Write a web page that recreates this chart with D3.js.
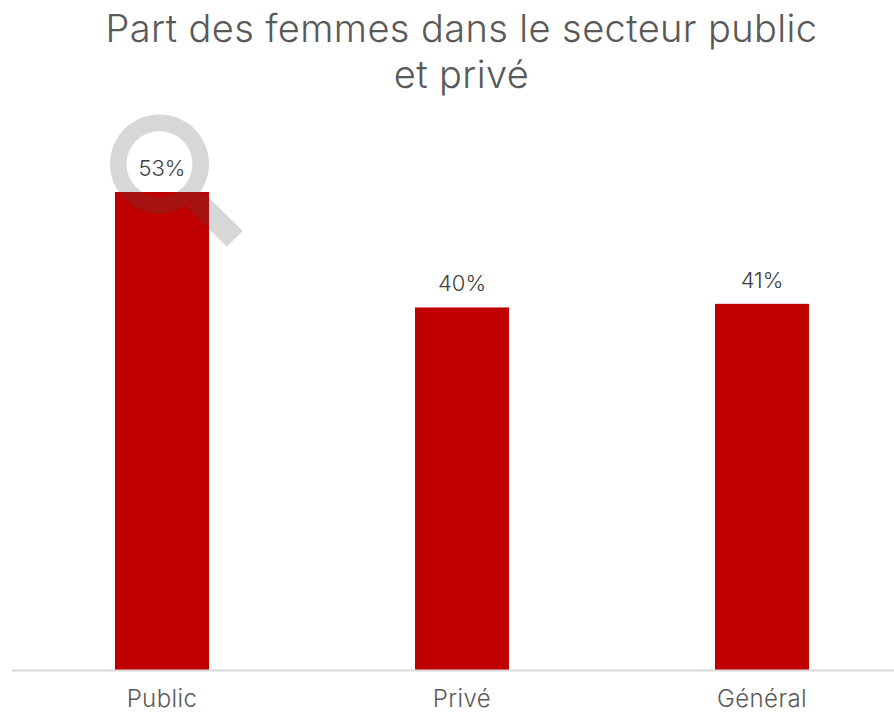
<!DOCTYPE html>
<html><head><meta charset="utf-8">
<script src="https://cdn.jsdelivr.net/npm/d3@7"></script>
<style>html,body{margin:0;background:#fff}svg{display:block}</style>
</head><body><svg id="c" width="894" height="713"></svg>
<script>
const categories=["Public","Privé","Général"];
const values=[53,40.2,40.6];
const labels=["53%","40%","41%"];
const titleLines=["Part des femmes dans le secteur public","et privé"];
const svg=d3.select("#c");
const x=d3.scaleBand().domain(categories).range([12,912]).paddingInner(0.6867).paddingOuter(0.3433);
const y=d3.scaleLinear().domain([0,53]).range([670,192]);
const font="Inter";
const wt=300;
svg.selectAll(".t").data(titleLines).join("text").attr("x",461.5).attr("y",(d,i)=>42+i*46)
 .attr("text-anchor","middle").attr("font-size",38).attr("letter-spacing",0.4).attr("font-weight",wt).attr("fill","#595959").style("font-family",font).text(d=>d);
svg.selectAll(".b").data(categories).join("rect").attr("x",d=>x(d)).attr("width",x.bandwidth())
 .attr("y",(d,i)=>y(values[i])).attr("height",(d,i)=>y(0)-y(values[i])).attr("fill","#c00000");
// magnifier, translucent over the first bar
const cx=x("Public")+x.bandwidth()/2-2.5, cy=164;
const mag=svg.append("g").attr("opacity",0.22);
const ring=d3.arc()({innerRadius:33,outerRadius:49.5,startAngle:0,endAngle:2*Math.PI});
mag.append("path").attr("transform",`translate(${cx},${cy})`).attr("d",ring).attr("fill","#4d4d4d");
mag.append("path").attr("transform",`translate(${cx},${cy})`)
 .attr("d","M27.2,42.7 L43.5,27.7 L83.2,67 L67.2,82.7 Z").attr("fill","#4d4d4d");
svg.append("line").attr("x1",12).attr("x2",894).attr("y1",670.5).attr("y2",670.5).attr("stroke","#d9d9d9").attr("stroke-width",2);
svg.selectAll(".l").data(labels).join("text").attr("x",(d,i)=>x(categories[i])+x.bandwidth()/2).attr("y",(d,i)=>y(values[i])-16)
 .attr("text-anchor","middle").attr("font-size",22).attr("font-weight",wt).attr("fill","#404040").style("font-family",font).text(d=>d);
svg.selectAll(".c").data(categories).join("text").attr("x",d=>x(d)+x.bandwidth()/2).attr("y",707)
 .attr("text-anchor","middle").attr("font-size",24).attr("letter-spacing",0.4).attr("font-weight",wt).attr("fill","#595959").style("font-family",font).text(d=>d);
</script></body></html>
